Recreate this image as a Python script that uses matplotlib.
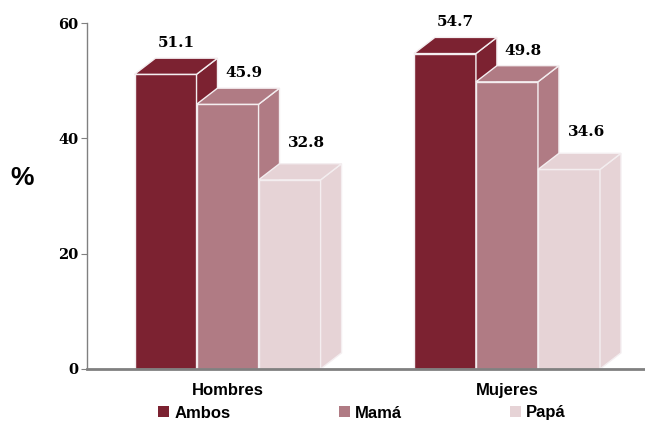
import numpy as np
import matplotlib.pyplot as plt
from matplotlib.patches import Polygon

# data
groups = ['Hombres', 'Mujeres']
series = ['Ambos', 'Mamá', 'Papá']
ambos = [51.1, 54.7]
mama = [45.9, 49.8]
papa = [32.8, 34.6]
y_ticks = [0, 20, 40, 60]

colors = ['#7c2231', '#b07b84', '#e6d3d6']
serif = 'DejaVu Serif'
sans = 'Liberation Sans'

fig = plt.figure(figsize=(6.45, 4.21), dpi=100)
ax = fig.add_axes([87 / 645, 52 / 421, 558 / 645, 346 / 421])
ax.set_xlim(-0.503, 1.494)
ax.set_ylim(0, 60)

width = 0.222      # bar width (group spacing = 1)
dx = 0.075         # depth offset, x
dy = 2.8           # depth offset, y
label_dy = [1.5, 1.4, 2.4]     # label gap above the back top
label_dx = [0.0, 0.02, 0.024]  # small horizontal nudge of labels

x = np.arange(len(groups))
for i, (vals, c) in enumerate(zip([ambos, mama, papa], colors)):
    left = x + (i - 1.5) * width
    for xl, v in zip(left, vals):
        # front face
        ax.bar(xl, v, width, align='edge', color=c, edgecolor='#f4eef0', lw=1)
        # side face
        side = [(xl + width, 0), (xl + width + dx, dy), (xl + width + dx, v + dy), (xl + width, v)]
        ax.add_patch(Polygon(side, closed=True, fc=c, ec='#f4eef0', lw=1))
        # top face
        top = [(xl, v), (xl + dx, v + dy), (xl + width + dx, v + dy), (xl + width, v)]
        ax.add_patch(Polygon(top, closed=True, fc=c, ec='#f4eef0', lw=1))
        ax.text(xl + width / 2 + dx / 2 + label_dx[i], v + dy + label_dy[i], f'{v}',
                ha='center', va='bottom', fontsize=11, fontweight='bold',
                family=serif, clip_on=False)

# axes styling
for s in ['top', 'right']:
    ax.spines[s].set_visible(False)
ax.spines['left'].set_color('#808080')
ax.spines['left'].set_linewidth(1)
ax.spines['bottom'].set_color('#808080')
ax.spines['bottom'].set_linewidth(2)

ax.set_yticks(y_ticks)
ax.set_yticklabels([str(t) for t in y_ticks], family=serif, fontweight='bold', fontsize=10.5)
ax.tick_params(axis='y', length=4, color='#808080', pad=2)

ax.set_xticks(x)
ax.set_xticklabels(groups, family=sans, fontweight='bold', fontsize=12)
ax.tick_params(axis='x', length=0, pad=10)

fig.text(22 / 645, 1 - 178 / 421, '%', ha='center', va='center',
         family=sans, fontweight='bold', fontsize=19)

# legend
handles = [plt.Rectangle((0, 0), 1, 1, fc=c, ec='none') for c in colors]
fig.legend(handles, series, loc='center', bbox_to_anchor=(362 / 645, 8 / 421),
           ncol=3, frameon=False, handlelength=0.66, handleheight=0.66,
           handletextpad=0.3, columnspacing=6.5, borderpad=0,
           prop={'family': sans, 'weight': 'bold', 'size': 12})

fig.savefig('out.png', dpi=100)
